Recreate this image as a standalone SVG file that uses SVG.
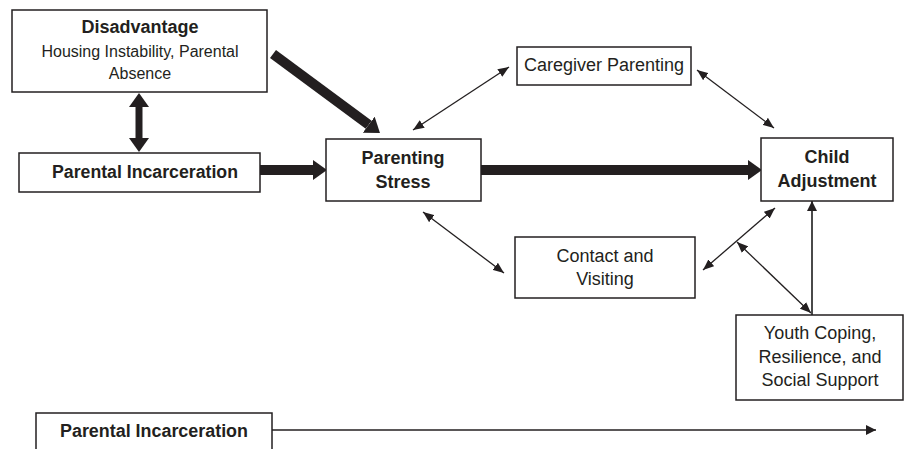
<svg xmlns="http://www.w3.org/2000/svg" width="904" height="449" viewBox="0 0 904 449">
<style>
  .box { fill: #ffffff; stroke: #231f20; stroke-width: 1.5; }
  .t { font-family: "Liberation Sans", Arial, sans-serif; fill: #231f20; text-anchor: middle; }
  .b { font-weight: bold; font-size: 18px; }
  .r { font-size: 18px; }
  .s { font-size: 16px; }
  .thick { stroke: #231f20; fill: none; }
  .thin { stroke: #231f20; stroke-width: 1.3; fill: none; }
</style>
<defs>
  <marker id="bigHead" markerUnits="userSpaceOnUse" markerWidth="15" markerHeight="20" refX="0" refY="10" orient="auto-start-reverse">
    <path d="M0,0 L14,10 L0,20 z" fill="#231f20"/>
  </marker>
  <marker id="smallHead" markerUnits="userSpaceOnUse" markerWidth="11" markerHeight="9" refX="11" refY="4.5" orient="auto-start-reverse">
    <path d="M0,0 L11,4.5 L0,9 z" fill="#231f20"/>
  </marker>
  <marker id="grayHead" markerUnits="userSpaceOnUse" markerWidth="10" markerHeight="10" refX="10" refY="5" orient="auto-start-reverse">
    <path d="M0,0 L10,5 L0,10 z" fill="#231f20"/>
  </marker>
  <filter id="blur" x="-50%" y="-10%" width="200%" height="120%">
    <feGaussianBlur stdDeviation="1.2"/>
  </filter>
</defs>

<g id="connectors">
  <!-- Disadvantage <-> Parental Incarceration -->
  <line class="thick" x1="139" y1="107" x2="139" y2="138" stroke-width="7" marker-start="url(#bigHead)" marker-end="url(#bigHead)"/>
  <!-- Disadvantage -> Parenting Stress -->
  <line class="thick" x1="273" y1="54" x2="368.7" y2="124.7" stroke-width="10" marker-end="url(#bigHead)"/>
  <!-- Parental Incarceration -> Parenting Stress -->
  <line class="thick" x1="260" y1="170" x2="313" y2="170" stroke-width="10" marker-end="url(#bigHead)"/>
  <!-- Parenting Stress -> Child Adjustment -->
  <line class="thick" x1="481" y1="170" x2="748" y2="170" stroke-width="10" marker-end="url(#bigHead)"/>
  <!-- Parenting Stress <-> Caregiver Parenting -->
  <line class="thin" x1="413" y1="130" x2="509" y2="67" marker-start="url(#smallHead)" marker-end="url(#smallHead)"/>
  <!-- Caregiver Parenting <-> Child Adjustment -->
  <line class="thin" x1="697" y1="70" x2="774" y2="128" marker-start="url(#smallHead)" marker-end="url(#smallHead)"/>
  <!-- Parenting Stress <-> Contact and Visiting -->
  <line class="thin" x1="423" y1="212" x2="504" y2="273" marker-start="url(#smallHead)" marker-end="url(#smallHead)"/>
  <!-- Contact and Visiting <-> Child Adjustment -->
  <line class="thin" x1="703" y1="270" x2="775" y2="208" marker-start="url(#smallHead)" marker-end="url(#smallHead)"/>
  <!-- Youth Coping <-> moderation -->
  <line class="thin" x1="737" y1="242" x2="811" y2="313" marker-start="url(#smallHead)" marker-end="url(#smallHead)"/>
  <!-- Youth Coping -> Child Adjustment -->
  <line x1="812" y1="314" x2="812" y2="206" stroke="#9a9a9a" stroke-width="3" filter="url(#blur)"/>
  <line x1="812" y1="315" x2="812" y2="201" stroke="#4a4a4a" stroke-width="2" marker-end="url(#grayHead)"/>
  <!-- timeline -->
  <line x1="272" y1="430" x2="876" y2="430" stroke="#231f20" stroke-width="1.3" marker-end="url(#grayHead)"/>
</g>

<g id="disadvantage">
  <rect class="box" x="12" y="10" width="255" height="82"/>
  <text class="t b" x="140" y="33">Disadvantage</text>
  <text class="t s" x="140" y="57">Housing Instability, Parental</text>
  <text class="t s" x="140" y="79">Absence</text>
</g>

<g id="parental-incarceration">
  <rect class="box" x="19" y="153" width="241" height="39"/>
  <text class="t b" x="145" y="178" textLength="186" lengthAdjust="spacingAndGlyphs">Parental Incarceration</text>
</g>

<g id="parenting-stress">
  <rect class="box" x="326" y="139" width="155" height="62"/>
  <text class="t b" x="403" y="164">Parenting</text>
  <text class="t b" x="403" y="188">Stress</text>
</g>

<g id="caregiver-parenting">
  <rect class="box" x="517" y="47" width="174" height="38"/>
  <text class="t r" x="604" y="71">Caregiver Parenting</text>
</g>

<g id="child-adjustment">
  <rect class="box" x="761" y="138" width="132" height="63"/>
  <text class="t b" x="827" y="163">Child</text>
  <text class="t b" x="827" y="187">Adjustment</text>
</g>

<g id="contact-visiting">
  <rect class="box" x="515" y="237" width="180" height="61"/>
  <text class="t r" x="605" y="262">Contact and</text>
  <text class="t r" x="605" y="285">Visiting</text>
</g>

<g id="youth-coping">
  <rect class="box" x="736" y="315" width="167" height="85"/>
  <text class="t r" x="820" y="339">Youth Coping,</text>
  <text class="t r" x="820" y="363">Resilience, and</text>
  <text class="t r" x="820" y="386">Social Support</text>
</g>

<g id="timeline-label">
  <rect class="box" x="36" y="413" width="236" height="40"/>
  <text class="t b" x="154" y="437" font-size="17" textLength="188" lengthAdjust="spacingAndGlyphs">Parental Incarceration</text>
</g>
</svg>
